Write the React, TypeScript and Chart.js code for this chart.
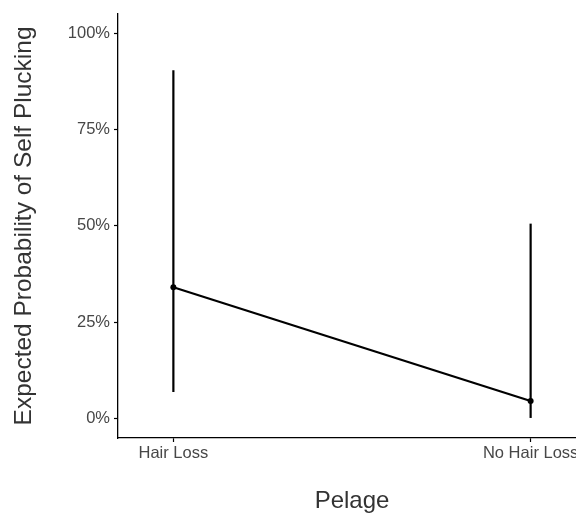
import React, { useEffect, useRef } from "react";
import { Chart, registerables } from "chart.js";
Chart.register(...registerables);

const categories = ["Hair Loss", "No Hair Loss"];
const estimate = [34.1, 4.6];
const lowerCI = [6.9, 0.2];
const upperCI = [90.4, 50.6];
const yTickValues = [0, 25, 50, 75, 100];
const yTickLabels = ["0%", "25%", "50%", "75%", "100%"];

const FONT = "'Liberation Sans', Arial, Helvetica, sans-serif";

export default function App() {
  const ref = useRef<HTMLCanvasElement>(null);
  useEffect(() => {
    const canvas = ref.current;
    if (!canvas) return;
    const errorSets = categories.map((_, i) => ({
      data: [
        { x: i, y: lowerCI[i] },
        { x: i, y: upperCI[i] },
      ],
      borderColor: "#000",
      backgroundColor: "#000",
      borderWidth: 2.2,
      pointRadius: 0,
      borderCapStyle: "butt",
    }));
    const chart = new Chart(canvas, {
      type: "line",
      data: {
        datasets: [
          ...errorSets,
          {
            data: categories.map((_, i) => ({ x: i, y: estimate[i] })),
            borderColor: "#000",
            backgroundColor: "#000",
            borderWidth: 2.2,
            pointRadius: 3,
            pointBorderWidth: 0,
            pointBackgroundColor: "#000",
          },
        ] as any,
      },
      options: {
        responsive: false,
        animation: false,
        layout: { padding: { top: 13, right: 14, left: 0, bottom: 0 } },
        plugins: { legend: { display: false }, tooltip: { enabled: false } },
        scales: {
          x: {
            type: "linear",
            min: -0.155,
            max: 1.155,
            afterBuildTicks: (s: any) => {
              s.ticks = categories.map((_, i) => ({ value: i }));
            },
            afterFit: (s: any) => {
              s.height = 76;
            },
            ticks: {
              callback: (_v: any, i: number) => categories[i] ?? "",
              color: "#474747",
              font: { family: FONT, size: 16.5 },
              padding: 2,
              maxRotation: 0,
              autoSkip: false,
            },
            grid: {
              display: true,
              drawOnChartArea: false,
              drawTicks: true,
              tickLength: 4,
              color: "#000",
              tickWidth: 1.2,
            },
            border: { display: true, color: "#000", width: 1.3 },
            title: {
              display: true,
              text: "Pelage",
              color: "#333",
              font: { family: FONT, size: 24, lineHeight: 1 },
              padding: { top: 0, bottom: 1 },
            },
          },
          y: {
            type: "linear",
            min: -5,
            max: 105,
            afterBuildTicks: (s: any) => {
              s.ticks = yTickValues.map((v) => ({ value: v }));
            },
            afterFit: (s: any) => {
              s.width = 118;
            },
            ticks: {
              callback: (_v: any, i: number) => yTickLabels[i] ?? "",
              color: "#474747",
              font: { family: FONT, size: 16.5 },
              padding: 4,
              autoSkip: false,
            },
            grid: {
              display: true,
              drawOnChartArea: false,
              drawTicks: true,
              tickLength: 4,
              color: "#000",
              tickWidth: 1.2,
            },
            border: { display: true, color: "#000", width: 1.3 },
            title: {
              display: true,
              text: "Expected Probability of Self Plucking",
              color: "#333",
              font: { family: FONT, size: 24.5, lineHeight: 1 },
              padding: { top: 12, bottom: 0 },
            },
          },
        },
      } as any,
    });
    return () => chart.destroy();
  }, []);
  return (
    <div
      style={{
        position: "absolute",
        left: 0,
        top: 0,
        width: 576,
        height: 514,
        overflow: "hidden",
        background: "#fff",
      }}
    >
      <canvas ref={ref} width={600} height={514} style={{ display: "block" }} />
    </div>
  );
}
